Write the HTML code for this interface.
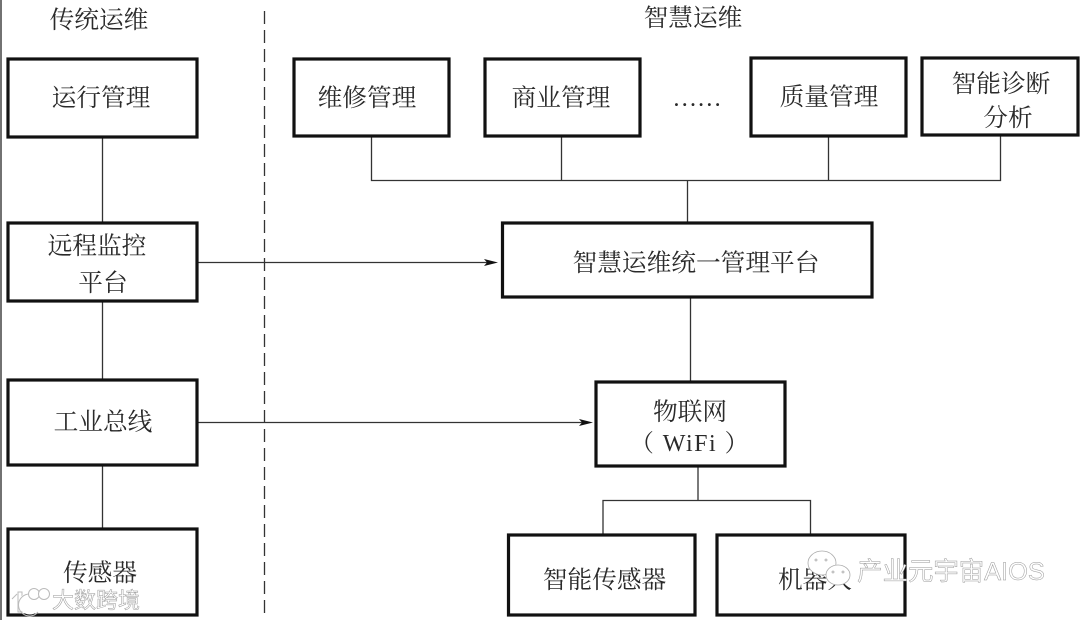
<!DOCTYPE html>
<html><head><meta charset="utf-8"><style>
html,body{margin:0;padding:0;background:#fff;width:1080px;height:620px;overflow:hidden}
svg{display:block;filter:blur(.35px)}
text{font-family:"Noto Serif CJK SC","Liberation Serif",serif;font-size:24.700px;fill:#2a2a2a;text-anchor:middle}
.b{fill:#fff;stroke:#111;stroke-width:3.2}
.l{stroke:#333;stroke-width:1.3;fill:none}
.wm{font-family:"Liberation Sans","Noto Sans CJK SC",sans-serif;fill:#fff;stroke:#999;stroke-width:.5}
</style></head><body>
<svg width="1080" height="620" viewBox="0 0 1080 620" xmlns="http://www.w3.org/2000/svg">
<line x1="1" y1="0" x2="1" y2="620" stroke="#444" stroke-width="1.500"/>
<line x1="264.500" y1="11" x2="264.500" y2="615" stroke="#333" stroke-width="1.300" stroke-dasharray="13 6"/>
<path class="l" d="M102.500 137V222M102.500 301V379M102.500 466V528"/>
<path class="l" d="M371.500 136V180.500H1000.500V135M561.500 136V180M828.500 136V180M687.500 180V223"/>
<path class="l" d="M690.500 297V382M698 466V500.500M603 534V500.500H810.500V534"/>
<path class="l" d="M198 262.500H490M198 422.500H584"/>
<path d="M498 262.500L484 259L487 262.500L484 266Z" fill="#111"/>
<path d="M593 422.500L579 419L582 422.500L579 426Z" fill="#111"/>
<rect class="b" x="8" y="59" width="189" height="78"/>
<rect class="b" x="8" y="223" width="189" height="78"/>
<rect class="b" x="8" y="380" width="189" height="85"/>
<rect class="b" x="8" y="529" width="189" height="86"/>
<rect class="b" x="294" y="59" width="155" height="77"/>
<rect class="b" x="485" y="59" width="155" height="77"/>
<rect class="b" x="751" y="58" width="155" height="78"/>
<rect class="b" x="922" y="58" width="156" height="77"/>
<rect class="b" x="502.500" y="223" width="369.500" height="74"/>
<rect class="b" x="596" y="382" width="189" height="84"/>
<rect class="b" x="508.500" y="535" width="186.500" height="80"/>
<rect class="b" x="717" y="535" width="188" height="80"/>
<text x="99" y="28">传统运维</text>
<text x="693" y="26">智慧运维</text>
<text x="101" y="106">运行管理</text>
<text x="367" y="106">维修管理</text>
<text x="561" y="106">商业管理</text>
<text x="697" y="106" style="font-family:'Liberation Serif',serif">……</text>
<text x="829" y="105">质量管理</text>
<text x="1001" y="92">智能诊断</text>
<text x="1008" y="126">分析</text>
<text x="97" y="254">远程监控</text>
<text x="103" y="291">平台</text>
<text x="696" y="271">智慧运维统一管理平台</text>
<text x="103" y="430">工业总线</text>
<text x="690" y="420">物联网</text>
<text x="690" y="451" style="font-family:'Liberation Serif','Noto Serif CJK SC',serif;font-size:24px;letter-spacing:1.500px">（ WiFi ）</text>
<text x="100" y="581">传感器</text>
<text x="604.500" y="588">智能传感器</text>
<text x="815" y="588">机器人</text>
<g fill="none" stroke="#bbb" stroke-width="1">
<path d="M17 594L12 599M18 592V612H22V592Z" fill="#fff"/>
<path d="M36 597A9 9 0 1 0 36 610" stroke="#fff" stroke-width="4"/>
<path d="M38 598A11 11 0 1 0 38 612"/>
<circle cx="34" cy="594" r="5.500" fill="#fff"/>
<circle cx="44" cy="594" r="5.500" fill="#fff"/>
</g>
<text class="wm" x="96" y="608" style="font-size:22px">大数跨境</text>
<g fill="#fff" stroke="#aaa" stroke-width=".8">
<ellipse cx="822" cy="563" rx="14" ry="12"/>
<ellipse cx="838" cy="575" rx="12" ry="10"/>
<circle cx="816" cy="560" r="1"/>
<circle cx="826" cy="560" r="1"/>
<circle cx="833" cy="572" r="1"/>
<circle cx="843" cy="572" r="1"/>
</g>
<text class="wm" x="951" y="580" style="font-size:25.400px">产业元宇宙AIOS</text>
</svg>
</body></html>
